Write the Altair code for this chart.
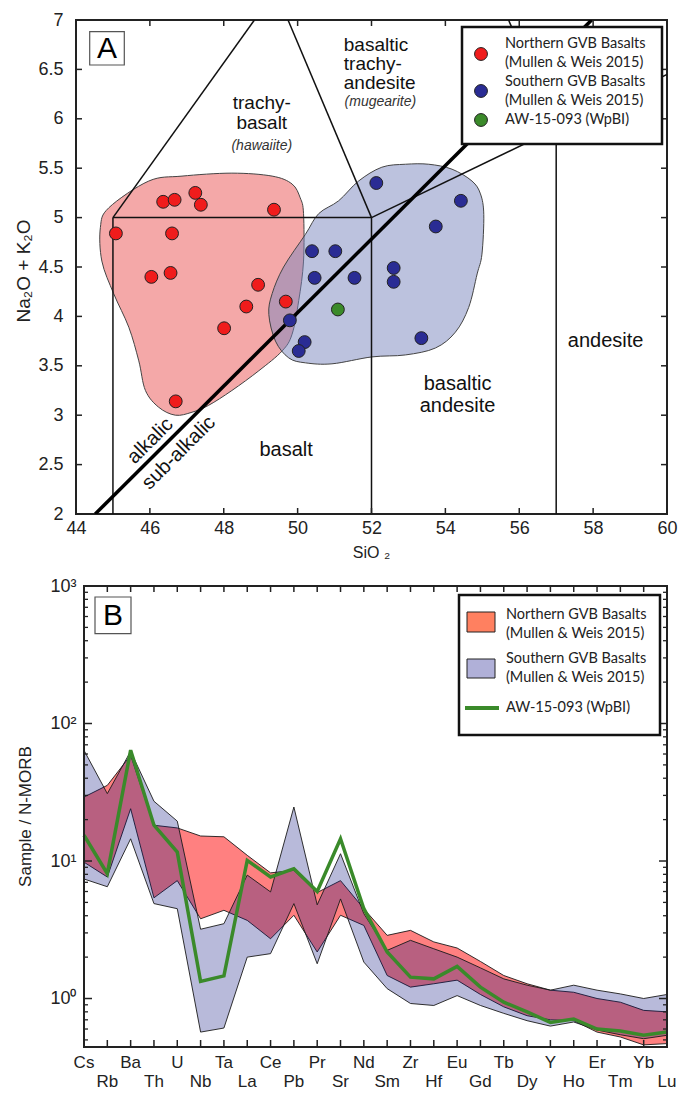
import altair as alt
import pandas as pd

# ---------------- Panel A data (TAS) ----------------
north_sio2 = [45.08, 46.36, 46.67, 47.23, 47.38, 49.36, 46.60, 46.04, 46.56, 48.93, 48.61, 49.68, 48.01, 46.70]
north_alk = [4.84, 5.16, 5.18, 5.25, 5.13, 5.08, 4.84, 4.40, 4.44, 4.32, 4.10, 4.15, 3.88, 3.14]
south_sio2 = [50.39, 51.02, 50.46, 49.79, 50.19, 50.03, 52.13, 54.42, 53.74, 52.60, 52.60, 51.54, 53.35]
south_alk = [4.66, 4.66, 4.39, 3.96, 3.74, 3.65, 5.35, 5.17, 4.91, 4.49, 4.35, 4.39, 3.78]
sample_sio2 = [51.09]
sample_alk = [4.07]

north_field_x = [48.22, 49.31, 49.85, 50.07, 50.16, 50.16, 50.03, 49.85, 49.58, 48.95, 48.22, 47.59,
                 47.14, 46.69, 46.24, 45.88, 45.70, 45.43, 45.02, 44.70, 44.66, 44.89, 45.97, 46.87]
north_field_y = [5.45, 5.42, 5.34, 5.20, 5.04, 4.56, 4.16, 3.82, 3.65, 3.45, 3.25, 3.10,
                 3.03, 3.00, 3.08, 3.25, 3.55, 3.89, 4.23, 4.56, 4.90, 5.10, 5.37, 5.42]
south_field_x = [52.92, 53.55, 54.18, 54.72, 54.95, 55.04, 54.99, 54.86, 54.63, 54.27, 53.73, 52.92,
                 52.01, 50.93, 50.21, 49.76, 49.40, 49.22, 49.31, 49.62, 50.21, 50.57, 51.11, 51.65, 52.28]
south_field_y = [5.54, 5.54, 5.49, 5.37, 5.24, 5.03, 4.63, 4.43, 4.09, 3.84, 3.68, 3.61,
                 3.59, 3.52, 3.53, 3.58, 3.75, 4.02, 4.23, 4.50, 4.83, 5.04, 5.17, 5.37, 5.51]

# TAS field boundaries (x1, y1, x2, y2)
tas_x1 = [45.0, 45.0, 52.0, 57.0, 45.0, 52.0, 52.0, 57.0, 57.0]
tas_y1 = [2.0, 5.0, 2.0, 2.0, 5.0, 5.0, 5.0, 5.9, 5.9]
tas_x2 = [45.0, 52.0, 52.0, 57.0, 48.83, 49.74, 57.0, 60.0, 55.71]
tas_y2 = [5.0, 5.0, 5.0, 5.9, 7.0, 7.0, 5.9, 6.45, 7.0]
alk_line_x = [44.52, 57.96]
alk_line_y = [2.0, 7.0]

xA_ticks = [44, 46, 48, 50, 52, 54, 56, 58, 60]
yA_ticks = [2, 2.5, 3, 3.5, 4, 4.5, 5, 5.5, 6, 6.5, 7]

# ---------------- Panel B data (spider diagram) ----------------
elements = ["Cs", "Rb", "Ba", "Th", "U", "Nb", "Ta", "La", "Ce", "Pb", "Pr", "Sr", "Nd",
            "Sm", "Zr", "Hf", "Eu", "Gd", "Tb", "Dy", "Y", "Ho", "Er", "Tm", "Yb", "Lu"]
north_hi = [29.2, 35.5, 58.7, 18.2, 17.4, 15.2, 15.0, 11.0, 8.2, 8.55, 5.9, 7.2, 4.5,
            2.88, 3.13, 2.58, 2.33, 1.86, 1.47, 1.28, 1.15, 1.11, 1.00, 0.94, 0.82, 0.80]
north_lo = [9.8, 7.65, 24.0, 5.4, 7.2, 3.8, 4.38, 3.7, 2.72, 4.03, 2.18, 4.03, 3.4,
            1.47, 1.21, 1.28, 1.36, 1.07, 0.87, 0.75, 0.70, 0.69, 0.57, 0.525, 0.46, 0.47]
south_hi = [63.8, 30.9, 62.8, 27.2, 19.5, 3.19, 3.5, 7.9, 5.96, 24.7, 4.8, 11.3, 4.14,
            2.24, 2.65, 2.30, 2.0, 1.67, 1.39, 1.25, 1.15, 1.25, 1.15, 1.08, 1.0, 1.07]
south_lo = [7.4, 6.5, 14.5, 4.9, 4.5, 0.57, 0.61, 2.0, 2.12, 4.9, 1.79, 5.3, 1.84,
            1.18, 0.92, 0.89, 1.05, 0.89, 0.78, 0.69, 0.63, 0.675, 0.59, 0.545, 0.51, 0.54]
sample_norm = [15.4, 8.1, 64.0, 18.2, 11.6, 1.33, 1.46, 10.1, 7.65, 8.8, 6.0, 14.5, 4.5,
               2.18, 1.43, 1.39, 1.71, 1.21, 0.94, 0.80, 0.67, 0.71, 0.60, 0.58, 0.54, 0.57]
yB_major = [1, 10, 100, 1000]
yB_minor = [0.5, 0.6, 0.7, 0.8, 0.9, 2, 3, 4, 5, 6, 7, 8, 9, 20, 30, 40, 50, 60, 70, 80, 90,
            200, 300, 400, 500, 600, 700, 800, 900]

legend_labels = ["Northern GVB Basalts", "(Mullen & Weis 2015)",
                 "Southern GVB Basalts", "(Mullen & Weis 2015)", "AW-15-093 (WpBI)"]

# ---------------- styling ----------------
FONT = "Liberation Sans"
LFONT = "Lato"
RED_PT, BLUE_PT, GREEN_PT = "#f01c1c", "#2a2c94", "#3b8a2a"
WA, HA = 591, 494
WB, HB = 591, 461
BOFF = 8  # panel B frame starts 8px right of panel A frame

xA = alt.Scale(domain=[44, 60], nice=False, zero=False)
yA = alt.Scale(domain=[2, 7], nice=False, zero=False)
axA_x = alt.Axis(values=xA_ticks, ticks=False, domain=False, grid=False, title=None,
                 labelFont=FONT, labelFontSize=18, labelColor="#222", labelPadding=5,
                 labelFlush=False, labelOverlap=False)
axA_y = alt.Axis(values=yA_ticks, format=".1~f", ticks=False, domain=False, grid=False, title=None,
                 labelFont=FONT, labelFontSize=18, labelColor="#222", labelPadding=13,
                 labelFlush=False, labelOverlap=False)


def XA(f):
    return alt.X(f, type="quantitative", scale=xA, axis=axA_x)


def YA(f):
    return alt.Y(f, type="quantitative", scale=yA, axis=axA_y)


one = pd.DataFrame({"k": [0]})


def txt(px, py, s, size, font=FONT, **kw):
    return alt.Chart(one).mark_text(text=s, fontSize=size, font=font, **kw).encode(
        x=alt.value(px), y=alt.value(py))


def box(x1, y1, x2, y2, sw, stroke="#222", fill="white", fo=1):
    return alt.Chart(one).mark_rect(fill=fill, fillOpacity=fo, stroke=stroke, strokeWidth=sw).encode(
        x=alt.value(x1), x2=alt.value(x2), y=alt.value(y1), y2=alt.value(y2))


# fields
nf = pd.DataFrame({"x": north_field_x, "y": north_field_y, "o": range(len(north_field_x))})
sf = pd.DataFrame({"x": south_field_x, "y": south_field_y, "o": range(len(south_field_x))})
north_field = alt.Chart(nf).mark_line(interpolate="cardinal-closed", fill="#f4a8a8", stroke="#444",
                                      strokeWidth=1).encode(x=XA("x"), y=YA("y"), order="o:Q")
south_field = alt.Chart(sf).mark_line(interpolate="cardinal-closed", fill="#7985bd", fillOpacity=0.5,
                                      stroke="#444", strokeWidth=1).encode(x=XA("x"), y=YA("y"), order="o:Q")

tas = pd.DataFrame({"x1": tas_x1, "y1": tas_y1, "x2": tas_x2, "y2": tas_y2})
tas_lines = alt.Chart(tas).mark_rule(color="#111", strokeWidth=1.5, clip=True).encode(
    x=XA("x1"), y=YA("y1"), x2="x2:Q", y2="y2:Q")
ab = pd.DataFrame({"x1": [alk_line_x[0]], "y1": [alk_line_y[0]], "x2": [alk_line_x[1]], "y2": [alk_line_y[1]]})
alk_line = alt.Chart(ab).mark_rule(color="#000", strokeWidth=3.5, clip=True).encode(
    x=XA("x1"), y=YA("y1"), x2="x2:Q", y2="y2:Q")

pts = pd.DataFrame({
    "SiO2": north_sio2 + south_sio2 + sample_sio2,
    "alk": north_alk + south_alk + sample_alk,
    "grp": ["N"] * len(north_sio2) + ["S"] * len(south_sio2) + ["W"] * len(sample_sio2),
})
points = alt.Chart(pts).mark_point(filled=True, shape="circle", size=165, stroke="#222",
                                   strokeWidth=1, opacity=1).encode(
    x=XA("SiO2"), y=YA("alk"),
    color=alt.Color("grp:N", scale=alt.Scale(domain=["N", "S", "W"], range=[RED_PT, BLUE_PT, GREEN_PT]),
                    legend=None))

# ticks (inward) A
txa = pd.DataFrame({"v": xA_ticks})
tya = pd.DataFrame({"v": yA_ticks})
ticksA = [
    alt.Chart(txa).mark_rule(color="#222", strokeWidth=1.5).encode(x=XA("v"), y=alt.value(HA), y2=alt.value(HA - 6)),
    alt.Chart(txa).mark_rule(color="#222", strokeWidth=1.5).encode(x=XA("v"), y=alt.value(0), y2=alt.value(6)),
    alt.Chart(tya).mark_rule(color="#222", strokeWidth=1.5).encode(y=YA("v"), x=alt.value(0), x2=alt.value(6)),
    alt.Chart(tya).mark_rule(color="#222", strokeWidth=1.5).encode(y=YA("v"), x=alt.value(WA), x2=alt.value(WA - 6)),
]


def ann(x, y, s, size, italic=False, align="center", angle=0, color="#111"):
    kw = dict(text=s, fontSize=size, font=FONT, align=align, baseline="middle", color=color)
    if italic:
        kw["fontStyle"] = "italic"
    if angle:
        kw["angle"] = angle
    d = pd.DataFrame({"x": [x], "y": [y]})
    return alt.Chart(d).mark_text(**kw).encode(x=XA("x"), y=YA("y"))


labelsA = [
    ann(49.03, 6.158, "trachy-", 19),
    ann(49.03, 5.955, "basalt", 19),
    ann(49.03, 5.727, "(hawaiite)", 14, italic=True, color="#333"),
    ann(51.25, 6.750, "basaltic", 19, align="left"),
    ann(51.25, 6.558, "trachy-", 19, align="left"),
    ann(51.25, 6.366, "andesite", 19, align="left"),
    ann(52.24, 6.170, "(mugearite)", 14, italic=True, color="#333"),
    ann(49.69, 2.644, "basalt", 20),
    ann(54.33, 3.311, "basaltic", 20),
    ann(54.33, 3.093, "andesite", 20),
    ann(58.34, 3.75, "andesite", 20),
    ann(46.01, 2.74, "alkalic", 20, angle=315),
    ann(46.78, 2.62, "sub-alkalic", 20, angle=315),
]

# panel letter + legend A
legA = [
    box(13.7, 11.7, 48.3, 45, 1.2, stroke="#555"),
    txt(31, 29, "A", 30),
    box(386, 7, 586, 124, 2.5, stroke="#111"),
]
for (py, col) in [(34, RED_PT), (71, BLUE_PT), (100, GREEN_PT)]:
    legA.append(alt.Chart(one).mark_point(filled=True, shape="circle", size=165, stroke="#222",
                                          strokeWidth=1, opacity=1, color=col).encode(
        x=alt.value(405), y=alt.value(py)))
for lab, py in zip(legend_labels, [24, 43, 62, 81, 100]):
    legA.append(txt(429, py, lab, 14.5, font=LFONT, align="left", baseline="middle", color="#222"))

guideA = [
    txt(-52, HA / 2 + 4, "Na₂O  +  K₂O", 19, angle=270, baseline="middle", color="#222"),
    txt(WA / 2, HA + 39, "SiO ₂", 16, baseline="middle", color="#222"),
]

panelA = alt.layer(north_field, south_field, tas_lines, alk_line, *ticksA, points, *labelsA,
                   *legA, *guideA).properties(width=WA, height=HA)

# ---------------- Panel B ----------------
dfB = pd.DataFrame({"idx": range(len(elements)), "el": elements, "n_hi": north_hi, "n_lo": north_lo,
                    "s_hi": south_hi, "s_lo": south_lo, "w": sample_norm})
xB = alt.Scale(domain=[0, 25], range=[BOFF, WB], nice=False, zero=False)
yB = alt.Scale(type="log", domain=[0.444, 1000], nice=False)
axB_y = alt.Axis(values=yB_major, ticks=False, domain=False, grid=False, title=None,
                 labelExpr="datum.value >= 999 ? '10³' : datum.value >= 99 ? '10²' : datum.value >= 9 ? '10¹' : '10⁰'",
                 labelFont=FONT, labelFontSize=18, labelColor="#222", labelPadding=0,
                 labelFlush=False, labelOverlap=False)


def XB(f):
    return alt.X(f, type="quantitative", scale=xB, axis=None)


def YB(f):
    return alt.Y(f, type="quantitative", scale=yB, axis=axB_y)


north_band = alt.Chart(dfB).mark_area(fill="#ff8080", stroke="#1a1a1a", strokeWidth=0.9).encode(
    x=XB("idx"), y=YB("n_hi"), y2="n_lo:Q")
south_band = alt.Chart(dfB).mark_area(fill="#0a1180", fillOpacity=0.29, stroke="#1a1a1a",
                                      strokeWidth=0.9).encode(x=XB("idx"), y=YB("s_hi"), y2="s_lo:Q")
sample_line = alt.Chart(dfB).mark_line(color="#3a8a2a", strokeWidth=3.5).encode(x=XB("idx"), y=YB("w"))

txb = pd.DataFrame({"v": list(range(len(elements)))})
tmaj = pd.DataFrame({"v": yB_major})
tmin = pd.DataFrame({"v": yB_minor})
ticksB = [
    alt.Chart(txb).mark_rule(color="#222", strokeWidth=1.5).encode(x=XB("v"), y=alt.value(HB), y2=alt.value(HB - 7)),
    alt.Chart(txb).mark_rule(color="#222", strokeWidth=1.5).encode(x=XB("v"), y=alt.value(0), y2=alt.value(6)),
    alt.Chart(tmaj).mark_rule(color="#222", strokeWidth=1.5).encode(y=YB("v"), x=alt.value(BOFF), x2=alt.value(BOFF + 8)),
    alt.Chart(tmaj).mark_rule(color="#222", strokeWidth=1.5).encode(y=YB("v"), x=alt.value(WB), x2=alt.value(WB - 8)),
    alt.Chart(tmin).mark_rule(color="#222", strokeWidth=1.3).encode(y=YB("v"), x=alt.value(BOFF), x2=alt.value(BOFF + 4)),
    alt.Chart(tmin).mark_rule(color="#222", strokeWidth=1.3).encode(y=YB("v"), x=alt.value(WB), x2=alt.value(WB - 4)),
]

elB = pd.DataFrame({"idx": range(len(elements)), "el": elements})
el_even = elB[elB["idx"] % 2 == 0]
el_odd = elB[elB["idx"] % 2 == 1]
elLabels = [
    alt.Chart(el_even).mark_text(font=FONT, fontSize=17, baseline="middle", color="#222").encode(
        x=XB("idx"), y=alt.value(HB + 16), text="el:N"),
    alt.Chart(el_odd).mark_text(font=FONT, fontSize=17, baseline="middle", color="#222").encode(
        x=XB("idx"), y=alt.value(HB + 35), text="el:N"),
]

o = BOFF
legB = [
    box(o + 11, 11, o + 47, 47.7, 1.2, stroke="#555"),
    txt(o + 29, 29.5, "B", 30),
    box(o + 375, 9, o + 576, 149, 2.5, stroke="#111"),
    alt.Chart(one).mark_rect(fill="#ff8060", stroke="#222", strokeWidth=1).encode(
        x=alt.value(o + 383), x2=alt.value(o + 411), y=alt.value(26), y2=alt.value(46)),
    alt.Chart(one).mark_rect(fill="#b0b0d8", stroke="#222", strokeWidth=1).encode(
        x=alt.value(o + 383), x2=alt.value(o + 411), y=alt.value(73), y2=alt.value(92)),
    alt.Chart(one).mark_rule(color="#3a8a2a", strokeWidth=4).encode(
        x=alt.value(o + 381), x2=alt.value(o + 415), y=alt.value(122)),
]
for lab, py in zip(legend_labels, [29, 48, 73, 92, 122]):
    legB.append(txt(o + 422, py, lab, 14.5, font=LFONT, align="left", baseline="middle", color="#222"))

frameB = [box(BOFF, 0, WB, HB, 2, stroke="#222", fill="white", fo=0)]
guideB = [txt(-50, HB / 2, "Sample / N-MORB", 17, angle=270, baseline="middle", color="#222")]

panelB = alt.layer(north_band, south_band, sample_line, *ticksB, *elLabels, *legB, *frameB,
                   *guideB).properties(width=WB, height=HB, view=alt.ViewBackground(stroke=None))

chart = alt.vconcat(panelA, panelB, spacing=15).properties(
    padding={"left": 6, "top": 2, "right": 5, "bottom": 0}
).configure_view(stroke="#222", strokeWidth=2)

chart.save("out.html", embed_options={"renderer": "svg", "actions": False})
